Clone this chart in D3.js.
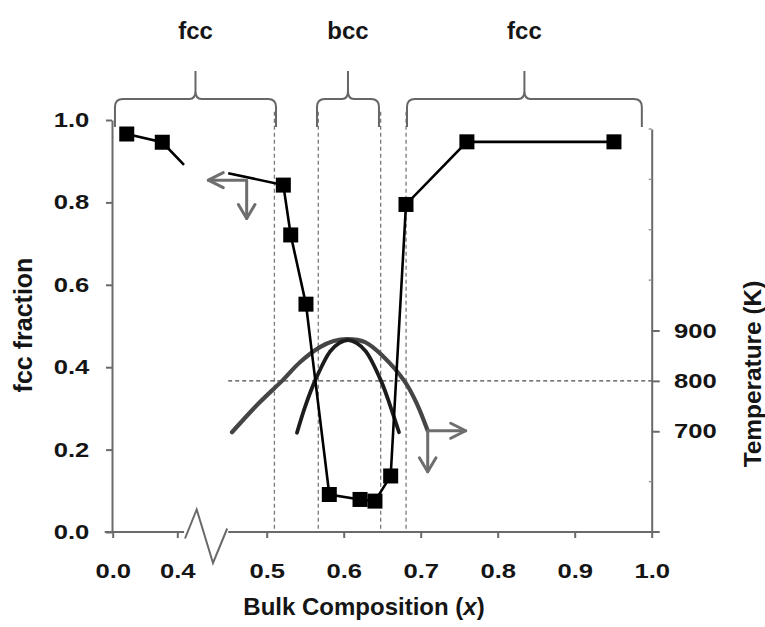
<!DOCTYPE html>
<html>
<head>
<meta charset="utf-8">
<script src="https://cdn.jsdelivr.net/npm/d3@7"></script>
<style>
  body { margin: 0; background: #fff; }
  svg { display: block; }
  text { font-family: "Liberation Sans", Arial, sans-serif; font-weight: bold; fill: #151515; }
</style>
</head>
<body>
<svg id="chart" width="765" height="627"></svg>
<script>
// Measured samples: bulk composition x and the resulting fcc fraction
const composition = [0.087, 0.307, 0.5216, 0.5312, 0.551, 0.5813, 0.6212, 0.6406, 0.661, 0.6809, 0.760, 0.951];
const fccFraction = [0.966, 0.946, 0.842, 0.721, 0.553, 0.091, 0.079, 0.075, 0.136, 0.795, 0.947, 0.947];

// Where the connecting line meets the two sides of the axis break
const breakEdgeX = [0.4066, 0.4500];
const breakEdgeY = [0.891, 0.871];

// Temperature curves (right axis)
const curveAx = [0.4549, 0.4887, 0.5212, 0.5432, 0.5692, 0.5870, 0.6043, 0.6277, 0.6510, 0.6796, 0.6952, 0.7091];
const curveAT = [698, 754, 802, 837, 867, 879, 883, 877, 849, 798, 754, 701];
const curveBx = [0.5393, 0.5497, 0.5627, 0.5822, 0.5940, 0.6056, 0.6170, 0.6290, 0.6485, 0.6601, 0.6718];
const curveBT = [697, 748, 800, 858, 875, 881, 875, 858, 800, 752, 698];

// Phase regions along the composition axis
const phaseNames = ["fcc", "bcc", "fcc"];
const phaseFrom = [0.014, 0.5653, 0.6822];
const phaseTo = [0.5121, 0.6458, 0.9872];
const phaseBoundaries = [0.510, 0.567, 0.648, 0.681];
const referenceTemp = 800;

// Axis ticks
const xTicks = [0.0, 0.4, 0.5, 0.6, 0.7, 0.8, 0.9, 1.0];
const yTicks = [0.0, 0.2, 0.4, 0.6, 0.8, 1.0];
const tTicks = [700, 800, 900];
const tMinorTicks = [500, 600, 1000, 1100, 1200, 1300];

// Axis-pointer annotations: the fcc line reads on the left axis, curves on the right
const fracPointerX = 0.474, fracPointerY = 0.854;
const tempPointerX = 0.7091, tempPointerT = 701;

const svg = d3.select("#chart");
const axisColor = "#6a6a6a";
const tickFont = "20.5px";
const wide = 1.25; // tick numerals are set wide

// broken composition axis: compressed 0-0.4, gap, then 0.45-1.0
const x = d3.scaleLinear().domain([0, 0.4, 0.45, 1.0]).range([112.7, 177.3, 228.2, 651.7]);
const yF = d3.scaleLinear().domain([0, 1]).range([532, 120]);
const yT = d3.scaleLinear().domain([500, 1300]).range([532, 129]);
const fmt = d3.format(".1f");

// vertical phase boundaries
svg.append("g").selectAll("line").data(phaseBoundaries).join("line")
  .attr("x1", d => x(d)).attr("x2", d => x(d))
  .attr("y1", yF(1.02)).attr("y2", yF(0))
  .attr("stroke", "#7a7a7a").attr("stroke-width", 1.3).attr("stroke-dasharray", "4,3");

// reference temperature line
svg.append("line")
  .attr("x1", x(0.45)).attr("x2", x(1.0))
  .attr("y1", yT(referenceTemp)).attr("y2", yT(referenceTemp))
  .attr("stroke", "#4a4a4a").attr("stroke-width", 1.3).attr("stroke-dasharray", "4,3");

function styleTicks(g, xOff) {
  g.selectAll(".tick line").attr("stroke", axisColor).attr("stroke-width", 2);
  const t = g.selectAll(".tick text").style("font-size", tickFont).style("font-family", null)
    .attr("transform", `scale(${wide},1)`);
  if (xOff !== undefined) t.attr("x", xOff / wide);
}

// left axis
const gL = svg.append("g").attr("transform", `translate(${x(0) - 0.7},0)`)
  .call(d3.axisLeft(yF).tickValues(yTicks).tickFormat(fmt).tickSize(6).tickSizeOuter(0));
gL.select(".domain").attr("stroke", axisColor).attr("stroke-width", 2);
styleTicks(gL, -22.7);

// right axis
const gR = svg.append("g").attr("transform", `translate(${x(1.0)},0)`)
  .call(d3.axisRight(yT).tickValues(tTicks).tickSize(8).tickSizeOuter(0));
gR.select(".domain").attr("stroke", axisColor).attr("stroke-width", 2);
styleTicks(gR, 22.3);
gR.append("g").selectAll("line").data(tMinorTicks).join("line")
  .attr("x1", -3).attr("x2", 0).attr("y1", d => yT(d)).attr("y2", d => yT(d))
  .attr("stroke", "#9a9a9a").attr("stroke-width", 1.5);

// bottom axis with break
const gB = svg.append("g").attr("transform", `translate(0,${yF(0)})`)
  .call(d3.axisBottom(x).tickValues(xTicks).tickFormat(fmt).tickSize(6).tickSizeOuter(0).tickPadding(25.4));
gB.select(".domain").remove();
styleTicks(gB);
const bL = x(0.4) + 6.7, bR = x(0.45);
gB.append("path")
  .attr("d", `M${x(0) - 8},0 H${bL} M${bR},0 H${x(1.0) + 8}`)
  .attr("stroke", axisColor).attr("stroke-width", 2).attr("fill", "none");
// zigzag break symbol
const zz = [[bL + 1, 6.5], [bL + 12.7, -22.5], [bL + 29, 31], [bR - 1, -3.5]];
gB.append("path").attr("d", d3.line()(zz))
  .attr("stroke", axisColor).attr("stroke-width", 2).attr("fill", "none");

// temperature curves
const tLine = d3.line().x(d => x(d[0])).y(d => yT(d[1])).curve(d3.curveCatmullRom.alpha(0.5));
svg.append("path").attr("d", tLine(d3.zip(curveAx, curveAT)))
  .attr("fill", "none").attr("stroke", "#454545").attr("stroke-width", 4.2).attr("stroke-linecap", "round");
svg.append("path").attr("d", tLine(d3.zip(curveBx, curveBT)))
  .attr("fill", "none").attr("stroke", "#1c1c1c").attr("stroke-width", 3.8).attr("stroke-linecap", "round");

// fcc fraction line, interrupted at the axis break
const fLine = d3.line().x(d => x(d[0])).y(d => yF(d[1]));
const seg1 = d3.zip(composition.slice(0, 2), fccFraction.slice(0, 2)).concat([[breakEdgeX[0], breakEdgeY[0]]]);
const seg2 = [[breakEdgeX[1], breakEdgeY[1]]].concat(d3.zip(composition.slice(2), fccFraction.slice(2)));
svg.append("g").selectAll("path").data([seg1, seg2]).join("path")
  .attr("d", fLine).attr("fill", "none").attr("stroke", "#000").attr("stroke-width", 2.6);

// markers
const ms = 15;
svg.append("g").selectAll("rect").data(d3.zip(composition, fccFraction)).join("rect")
  .attr("x", d => x(d[0]) - ms / 2).attr("y", d => yF(d[1]) - ms / 2)
  .attr("width", ms).attr("height", ms).attr("fill", "#000");

// axis pointer arrows
function pointer(cx, cy, dirH, lenH, lenV) {
  const g = svg.append("g").attr("stroke", "#6e6e6e").attr("stroke-width", 3)
    .attr("fill", "none").attr("stroke-linecap", "round").attr("stroke-linejoin", "round");
  const hx = cx + dirH * lenH, vy = cy + lenV;
  g.append("path").attr("d", `M${cx},${cy} H${hx} M${cx},${cy} V${vy}`);
  g.append("path").attr("d", `M${hx - dirH * 15},${cy - 7.5} L${hx},${cy} L${hx - dirH * 15},${cy + 7.5}`);
  g.append("path").attr("d", `M${cx - 8.3},${vy - 14} L${cx},${vy} L${cx + 8.3},${vy - 14}`);
}
pointer(x(fracPointerX), yF(fracPointerY), -1, 38.4, 38.3);
pointer(x(tempPointerX), yT(tempPointerT), 1, 38, 41);

// phase braces
const yh = 99, yb = 127, yt = 71;
svg.append("g").selectAll("path").data(d3.range(phaseNames.length)).join("path")
  .attr("d", i => {
    const a = x(phaseFrom[i]), b = x(phaseTo[i]), m = (a + b) / 2;
    return `M${a},${yb} V${yh + 8} Q${a},${yh} ${a + 8},${yh} H${m - 6} Q${m},${yh} ${m},${yh - 8} V${yt}` +
           `M${m},${yh - 8} Q${m},${yh} ${m + 6},${yh} H${b - 8} Q${b},${yh} ${b},${yh + 8} V${yb}`;
  })
  .attr("fill", "none").attr("stroke", "#666").attr("stroke-width", 2);
svg.append("g").selectAll("text").data(d3.range(phaseNames.length)).join("text")
  .attr("x", i => (x(phaseFrom[i]) + x(phaseTo[i])) / 2).attr("y", 39)
  .attr("text-anchor", "middle").style("font-size", "24px")
  .text(i => phaseNames[i]);

// axis titles
const title = svg.append("text").attr("x", 364).attr("y", 615).attr("text-anchor", "middle")
  .style("font-size", "24px");
title.append("tspan").text("Bulk Composition (");
title.append("tspan").style("font-style", "italic").text("x");
title.append("tspan").text(")");

svg.append("text").attr("transform", "translate(31.5,325) rotate(-90)")
  .attr("text-anchor", "middle").style("font-size", "25px").text("fcc fraction");
svg.append("text").attr("transform", "translate(761,374) rotate(-90)")
  .attr("text-anchor", "middle").style("font-size", "24.4px").text("Temperature (K)");
</script>
</body>
</html>
